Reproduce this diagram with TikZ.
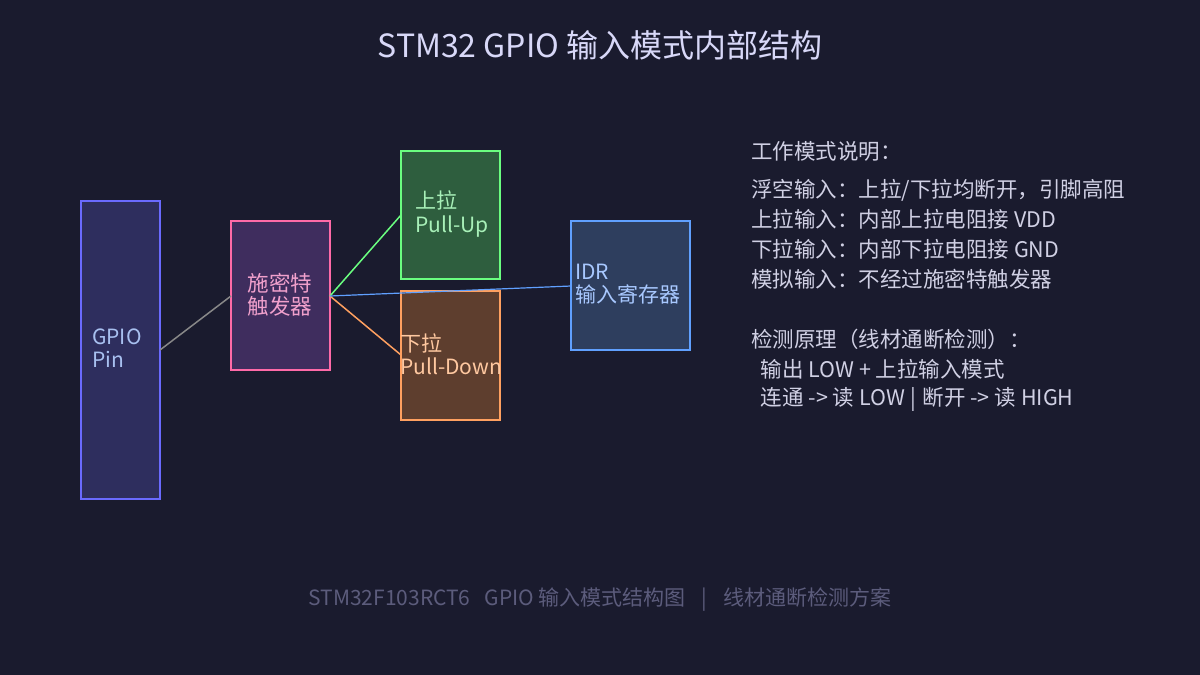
\documentclass[tikz,border=0pt]{standalone}
\usepackage{fontspec}
\setmainfont{Noto Sans CJK SC}
\definecolor{bg}{HTML}{1A1B2E}
\definecolor{gpiofill}{HTML}{2E2E5E}
\definecolor{gpiodraw}{HTML}{6A6AFF}
\definecolor{gpiotext}{HTML}{A8C0F0}
\definecolor{stfill}{HTML}{3F2D5E}
\definecolor{stdraw}{HTML}{FF6AA8}
\definecolor{sttext}{HTML}{F0A0CC}
\definecolor{pufill}{HTML}{2E5E3E}
\definecolor{pudraw}{HTML}{6AFF80}
\definecolor{putext}{HTML}{A8F0B8}
\definecolor{pdfill}{HTML}{5E3E2E}
\definecolor{pddraw}{HTML}{FFA060}
\definecolor{pdtext}{HTML}{FFC8A0}
\definecolor{idrfill}{HTML}{2E3E5E}
\definecolor{idrdraw}{HTML}{60A0FF}
\definecolor{idrtext}{HTML}{A8C8FF}
\definecolor{titletext}{HTML}{D8D8F8}
\definecolor{bodytext}{HTML}{D0D0E4}
\definecolor{foottext}{HTML}{5C5C7C}
\definecolor{wiregray}{HTML}{888888}
\tikzset{
  lbl/.style={anchor=west, font=\fontsize{21}{23.5}\selectfont, align=left, inner sep=0pt},
  info/.style={anchor=west, font=\fontsize{21.5}{25}\selectfont, text=bodytext, inner sep=0pt},
}
\begin{document}
\begin{tikzpicture}[x=1pt,y=-1pt]
\fill[bg] (0,0) rectangle (1200,675);
\useasboundingbox (0,0) rectangle (1200,675);

\node[font=\fontsize{32}{36}\selectfont, text=titletext] (title) at (600,45) {STM32 GPIO 输入模式内部结构};

% boxes
\draw[fill=gpiofill, draw=gpiodraw, line width=2pt] (81,201) rectangle (160,499);
\coordinate (gpioR) at (160,350);
\node[lbl, text=gpiotext] (gpiolbl) at (92,348) {GPIO\\Pin};

\draw[fill=stfill, draw=stdraw, line width=2pt] (231,221) rectangle (330,370);
\coordinate (stL) at (231,296);
\coordinate (stR) at (330,296);
\node[font=\fontsize{21.5}{23}\selectfont, text=sttext, align=center, inner sep=0pt] (stlbl) at (280,295) {施密特\\触发器};

\draw[fill=pufill, draw=pudraw, line width=2pt] (401,151) rectangle (500,279);
\coordinate (puL) at (401,215);
\node[lbl, text=putext] (pulbl) at (415,214) {上拉\\Pull-Up};

\draw[fill=pdfill, draw=pddraw, line width=2pt] (401,291) rectangle (500,420);
\coordinate (pdL) at (401,355);
\node[lbl, text=pdtext] (pdlbl) at (400,354) {下拉\\Pull-Down};

\draw[fill=idrfill, draw=idrdraw, line width=2pt] (571,221) rectangle (690,350);
\coordinate (idrL) at (571,286);
\node[lbl, text=idrtext] (idrlbl) at (575,284) {IDR\\输入寄存器};

% connectors
\draw[wiregray, line width=1.5pt] (gpioR) -- (stL);
\draw[pudraw, line width=1.5pt] (stR) -- (puL);
\draw[pddraw, line width=1.5pt] (stR) -- (pdL);
\draw[idrdraw, line width=1.2pt] (stR) -- (idrL);

% info text
\node[info] (i0) at (751,151) {工作模式说明：};
\node[info] (i1) at (751,190) {浮空输入：上拉/下拉均断开，引脚高阻};
\node[info] (i2) at (751,219) {上拉输入：内部上拉电阻接 VDD};
\node[info] (i3) at (751,249) {下拉输入：内部下拉电阻接 GND};
\node[info] (i4) at (751,279) {模拟输入：不经过施密特触发器};
\node[info] (i5) at (751,339) {检测原理（线材通断检测）：};
\node[info] (i6) at (751,369) {\ \ 输出 LOW + 上拉输入模式};
\node[info] (i7) at (751,399) {\ \ 连通 -> 读 LOW\hspace{6pt}|\hspace{6pt}断开 -> 读 HIGH};

\node[font=\fontsize{21}{24}\selectfont, text=foottext, inner sep=0pt] (foot) at (600,600) {STM32F103RCT6\hspace{14pt}GPIO 输入模式结构图\hspace{16pt}|\hspace{16pt}线材通断检测方案};
\end{tikzpicture}
\end{document}
